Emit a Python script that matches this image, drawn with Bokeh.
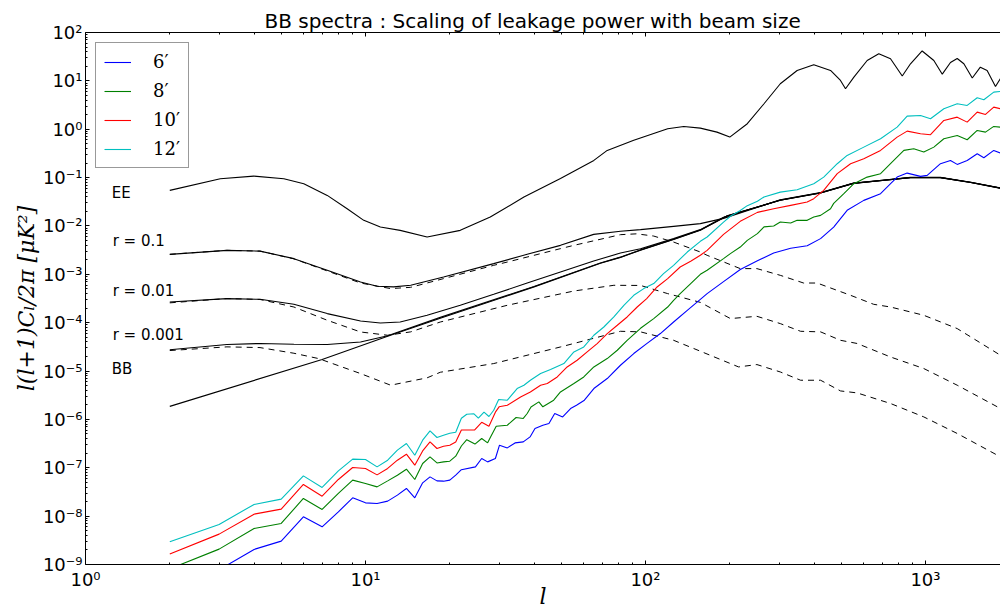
import numpy as np
from bokeh.plotting import figure
from bokeh.models import (FixedTicker, LogAxis, Legend, LegendItem, ColumnDataSource,
                          CustomJSTickFormatter)
from bokeh.embed import file_html
from bokeh.resources import INLINE
from bokeh.core.properties import value

# ---------------- data: multipole l and log10[l(l+1)C_l/2pi] (uK^2) ----
ee_l = [2, 3.03, 3.99, 5.11, 6.02, 7.3, 8.6, 9.86, 11.3, 13.3,
        16.6, 21.8, 27.9, 36.8, 49.7, 65.4, 73, 90.8, 120, 137,
        157, 180, 200, 231, 265, 303, 348, 399, 458, 497,
        518, 555, 619, 681, 750, 826, 884, 973, 1071, 1148,
        1228, 1298, 1371, 1469, 1570, 1660, 1778, 1853]
ee_log = [-1.264, -1.023, -0.969, -1.023, -1.126, -1.368, -1.643, -1.884, -2.023, -2.091,
          -2.229, -2.091, -1.816, -1.403, -1.017, -0.645, -0.438, -0.229, 0.010, 0.058,
          0.023, -0.06, -0.163, 0.114, 0.527, 0.940, 1.215, 1.333, 1.215, 1.008,
          0.837, 1.076, 1.421, 1.560, 1.457, 1.101, 1.353, 1.618, 1.421, 1.138,
          1.380, 1.463, 1.353, 1.060, 1.283, 1.215, 0.884, 1.050]

lens_l = [2, 7, 12, 18.5, 40, 69, 81.4, 96, 126, 157, 196, 303, 422, 553, 700, 884, 1130, 1450, 1853]
lens_log = [-5.73, -4.76, -4.28, -3.91, -3.26, -2.77, -2.65, -2.50, -2.28, -2.09, -1.79, -1.47,
            -1.32, -1.12, -1.06, -1.00, -1.00, -1.10, -1.22]

r01_tot_l = [2, 3.2, 4.2, 5.55, 7.3, 9.6, 11, 12.6, 14.5, 19, 28.7, 37.8, 49.7, 65.3, 81.4, 96,
             126, 157, 190, 303, 422, 553, 700, 884, 1130, 1450, 1853]
r01_tot_log = [-2.587, -2.504, -2.52, -2.676, -2.917, -3.159, -3.248, -3.26, -3.227, -3.056,
               -2.779, -2.587, -2.401, -2.174, -2.11, -2.076, -2.008, -1.952, -1.843, -1.46,
               -1.31, -1.115, -1.055, -0.995, -0.995, -1.095, -1.215]

r001_tot_l = [2, 3.2, 4.2, 5.55, 7.3, 9.6, 11.3, 13.3, 16.6, 21.8, 28.7, 37.8, 49.7, 65.3, 81.4,
              96, 126, 157, 190, 303, 422, 553, 700, 884, 1130, 1450, 1853]
r001_tot_log = [-3.572, -3.502, -3.517, -3.62, -3.812, -3.965, -4.006, -3.986, -3.847, -3.64,
                -3.413, -3.18, -2.952, -2.725, -2.56, -2.47, -2.262, -2.076, -1.82, -1.465,
                -1.315, -1.118, -1.058, -0.998, -0.998, -1.098, -1.218]

r0001_tot_l = [2, 3.2, 4.2, 5.55, 7.3, 9.6, 12, 18.5, 40, 69, 81.4, 96, 126, 157, 196, 303, 422,
               553, 700, 884, 1130, 1450, 1853]
r0001_tot_log = [-4.56, -4.452, -4.43, -4.446, -4.452, -4.40, -4.27, -3.89, -3.25, -2.765, -2.645,
                 -2.495, -2.275, -2.085, -1.79, -1.47, -1.32, -1.12, -1.06, -1.0, -1.0, -1.1, -1.22]

r01_ten_l = [2, 3.2, 4.2, 5.55, 7.3, 9.6, 12.3, 14.5, 19, 28.7,
             32.1, 49.7, 55.5, 81.4, 93, 107, 126, 157, 166, 218, 250,
             303, 367, 410, 540, 653, 750, 986, 1298, 1853]
r01_ten_log = [-2.587, -2.504, -2.52, -2.68, -2.93, -3.18, -3.295, -3.269, -3.089, -2.814,
               -2.746, -2.469, -2.401, -2.18, -2.163, -2.209, -2.333, -2.539, -2.607, -2.882, -2.882,
               -3.021, -3.18, -3.18, -3.434, -3.62, -3.676, -3.847, -4.122, -4.674]

r001_ten_l = [2, 3.2, 4.2, 5.55, 7.3, 9.6, 12, 14.5, 18.5, 32.1,
              55.5, 77.1, 96, 120, 157, 201, 250, 303, 358, 422,
              497, 570, 750, 986, 1298, 1853]
r001_ten_log = [-3.59, -3.50, -3.52, -3.676, -3.95, -4.192, -4.26, -4.19, -3.986, -3.64,
                -3.345, -3.227, -3.23, -3.399, -3.58, -3.915, -3.868, -4.019, -4.178, -4.19,
                -4.364, -4.43, -4.709, -4.948, -5.293, -5.775]

r0001_ten_l = [2, 3.2, 4.2, 5.55, 6.8, 9.6, 12.3, 16.6, 18.5, 28.7,
               49.7, 81.4, 96, 126, 157, 215, 250, 303, 358, 422,
               497, 570, 750, 986, 1298, 1853]
r0001_ten_log = [-4.576, -4.50, -4.515, -4.632, -4.742, -5.052, -5.293, -5.14, -5.025, -4.845,
                 -4.502, -4.178, -4.19, -4.364, -4.59, -4.915, -4.866, -5.019, -5.19, -5.19,
                 -5.411, -5.452, -5.671, -5.948, -6.291, -6.775]

# leakage spectra for the four beam sizes
b6_l = [3, 4, 5, 6, 7, 8, 9, 10, 11, 12, 13, 14, 15, 16, 17, 18, 19, 20, 21, 22,
        24.7, 26, 27.3, 29.1, 30.1, 32.1, 34.2, 36.6, 38.7, 40.3,
        43, 45.2, 47.4, 50.6, 54, 56.7, 60.5, 65.4, 73, 81.4,
        90.8, 101, 113, 126, 141, 157, 166, 190, 218, 251,
        287, 330, 378, 422, 470, 525, 602, 691, 792, 860,
        960, 1014, 1131, 1228, 1298, 1409, 1530, 1616, 1753, 1853]
b6_log = [-9.11, -8.688, -8.517, -8.014, -8.221, -7.911, -7.622, -7.725, -7.738, -7.690,
          -7.566, -7.428, -7.622, -7.312, -7.188, -7.271, -7.277, -7.256, -7.153, -7.04,
          -6.981, -6.808, -6.878, -6.808, -6.533, -6.589, -6.486, -6.465, -6.362, -6.188,
          -6.12, -6.085, -5.878, -5.948, -5.775, -5.707, -5.603, -5.362, -5.155, -4.880,
          -4.638, -4.432, -4.225, -3.986, -3.744, -3.517, -3.40, -3.15, -2.90, -2.72,
          -2.56, -2.46, -2.41, -2.262, -2.023, -1.677, -1.471, -1.333, -0.990, -0.907,
          -0.975, -0.955, -0.713, -0.645, -0.727, -0.645, -0.506, -0.589, -0.438, -0.493]

b8_l = [2, 3, 4, 5, 6, 7, 8, 9, 10, 11, 12, 13, 14, 15, 16, 17, 18, 19, 20, 21, 22,
        23, 24.6, 26, 27.3, 28, 29.3,
        32.1, 34.5, 36.6, 37.8, 39, 41.6, 43, 47, 49.7, 55.5,
        60.2, 65.4, 73, 79.3, 86, 96, 107, 120, 126, 133,
        145, 157, 166, 190, 201, 218, 231, 251, 265, 287,
        303, 330, 348, 378, 399, 422, 458, 470, 511, 555,
        619, 691, 750, 837, 908, 986, 1071, 1163, 1298, 1409,
        1530, 1638, 1753, 1853]
b8_log = [-9.09, -8.682, -8.254, -8.151, -7.634, -7.862, -7.531, -7.256, -7.324, -7.395,
          -7.271, -7.153, -7.029, -7.242, -6.911, -6.775, -6.90, -6.878, -6.864, -6.760, -6.55,
          -6.42, -6.51, -6.395, -6.485, -6.36, -6.14,
          -6.12, -5.96, -5.98, -5.878, -5.742, -5.638, -5.74, -5.603, -5.432, -5.258,
          -5.122, -4.915, -4.742, -4.570, -4.364, -4.116, -3.915, -3.676, -3.537, -3.399,
          -3.192, -3.0, -2.917, -2.676, -2.572, -2.436, -2.298, -2.159, -2.02, -2.0,
          -1.919, -1.94, -1.884, -1.884, -1.816, -1.781, -1.643, -1.533, -1.333, -1.126,
          -0.990, -0.919, -0.713, -0.438, -0.403, -0.473, -0.370, -0.196, -0.128, -0.217,
          -0.025, -0.060, 0.058, 0.043]

b10_l = [2, 3, 4, 5, 6, 7, 8, 9, 10, 11, 12, 13, 14, 15, 16, 17, 18, 19, 20, 21, 22,
         24.5, 26, 27.6, 29.1, 30,
         32.1, 35.8, 38.8, 42.2, 44.6, 48.4, 52.5, 57, 61.9, 67.2,
         73, 79.3, 86, 93.4, 101, 110, 120, 133, 145, 157,
         166, 190, 218, 251, 287, 330, 378, 399, 433, 484,
         540, 602, 691, 792, 860, 960, 1042, 1163, 1298, 1409,
         1530, 1638, 1753, 1853]
b10_log = [-8.785, -8.372, -7.959, -7.855, -7.345, -7.587, -7.242, -6.994, -7.014, -7.147,
           -7.014, -6.843, -6.719, -6.946, -6.651, -6.465, -6.601, -6.554, -6.533, -6.465, -6.22,
           -6.22, -6.06, -6.14, -5.85, -5.74,
           -5.707, -5.535, -5.432, -5.293, -5.258, -5.122, -4.915, -4.777, -4.605, -4.432,
           -4.225, -4.054, -3.882, -3.676, -3.502, -3.262, -3.089, -2.849, -2.731, -2.607,
           -2.504, -2.174, -1.905, -1.719, -1.643, -1.574, -1.506, -1.436, -1.264, -0.919,
           -0.713, -0.610, -0.438, -0.163, -0.039, -0.093, -0.114, 0.182, 0.250, 0.147,
           0.353, 0.306, 0.457, 0.424]

b12_l = [2, 3, 4, 5, 6, 7, 8, 9, 10, 11, 12, 13, 14, 15, 16, 17, 18, 19, 20, 21, 22,
         23, 24.4, 25.3, 26.5, 27.6, 28.7, 29.9,
         32.1, 34.8, 36.8, 38.8, 42.2, 45.8, 51.1, 55.5, 60.2, 65.4,
         71, 77.1, 83.7, 90.8, 98.6, 107, 116, 126, 141, 157,
         166, 190, 201, 218, 231, 251, 265, 303, 348, 399,
         433, 484, 525, 602, 691, 792, 860, 960, 1042, 1163,
         1298, 1409, 1530, 1616, 1753, 1853]
b12_log = [-8.531, -8.171, -7.758, -7.649, -7.167, -7.407, -7.064, -6.822, -6.829, -6.981,
           -6.843, -6.636, -6.498, -6.740, -6.430, -6.238, -6.374, -6.327, -6.285, -6.264, -5.975,
           -5.893, -5.884, -5.973, -5.849, -5.94, -5.81, -5.589,
           -5.603, -5.362, -5.293, -5.19, -5.052, -4.969, -4.845, -4.605, -4.502, -4.260,
           -4.089, -3.882, -3.640, -3.434, -3.295, -3.192, -2.986, -2.814, -2.539, -2.318,
           -2.229, -1.92, -1.80, -1.68, -1.58, -1.49, -1.40, -1.30, -1.25, -1.126,
           -0.99, -0.713, -0.541, -0.370, -0.196, 0.043, 0.271, 0.285, 0.217, 0.424,
           0.527, 0.492, 0.651, 0.610, 0.767, 0.781]

beam_labels = ["6\u2032", "8\u2032", "10\u2032", "12\u2032"]
beam_colors = ["#0000ff", "#008000", "#ff0000", "#00bfbf"]

note_text = ["EE", "r = 0.1", "r = 0.01", "r = 0.001", "BB"]
note_l = [1.24, 1.25, 1.25, 1.25, 1.24]
note_val = [0.049, 0.0048, 0.00045, 0.000055, 0.0000109]

title_text = "BB spectra : Scaling of leakage power with beam size"
x_label_text = "l"
y_label_text = "l(l+1)C\u2097/2\u03c0 [\u03bcK\u00b2]"

x_major = [1, 10, 100, 1000]
x_minor = [m * 10 ** e for e in range(0, 4) for m in range(2, 10)]
y_major = [10.0 ** e for e in range(-9, 3)]
y_minor = [m * 10.0 ** e for e in range(-9, 2) for m in range(2, 10)]


def lin(a):
    return [10.0 ** v for v in a]


p = figure(width=1000, height=614, x_axis_type="log", y_axis_type="log",
           x_range=(1, 1853), y_range=(1e-9, 1e2),
           output_backend="svg", toolbar_location=None,
           min_border_left=85, min_border_right=0, min_border_top=32, min_border_bottom=50)
p.grid.visible = False
p.outline_line_color = None
p.background_fill_color = "white"
p.border_fill_color = "white"

# theory curves
black_kw = dict(line_color="black", line_width=1.1)
p.line(ee_l, lin(ee_log), **black_kw)
p.line(lens_l, lin(lens_log), **black_kw)
p.line(r01_tot_l, lin(r01_tot_log), **black_kw)
p.line(r001_tot_l, lin(r001_tot_log), **black_kw)
p.line(r0001_tot_l, lin(r0001_tot_log), **black_kw)
for tl, tv in [(r01_ten_l, r01_ten_log), (r001_ten_l, r001_ten_log), (r0001_ten_l, r0001_ten_log)]:
    p.line(tl, lin(tv), line_color="black", line_width=1.0, line_dash="6 5")

# leakage curves
items = []
for lab, col, ll, lv in zip(beam_labels, beam_colors,
                            [b6_l, b8_l, b10_l, b12_l], [b6_log, b8_log, b10_log, b12_log]):
    r = p.line(ll, lin(lv), line_color=col, line_width=1.1)
    items.append(LegendItem(label=lab, renderers=[r]))

src = ColumnDataSource(dict(x=note_l, y=note_val, t=note_text))
p.text(x="x", y="y", text="t", source=src, text_font=value("DejaVu Sans"),
       text_font_size="15px", text_baseline="middle", text_align="left", text_color="black")

legend = Legend(items=items, location="top_left", margin=10, padding=8, spacing=8,
                glyph_width=27, glyph_height=16, label_height=16, label_standoff=22,
                label_text_font="DejaVu Serif", label_text_font_size="18px",
                label_text_color="black",
                border_line_color="#333333", border_line_width=1.2,
                background_fill_color="white", background_fill_alpha=1.0)
p.add_layout(legend)

# axes
sup_fmt = CustomJSTickFormatter(code="""
const sup = {"-": "\u207b", "0": "\u2070", "1": "\u00b9", "2": "\u00b2", "3": "\u00b3",
             "4": "\u2074", "5": "\u2075", "6": "\u2076", "7": "\u2077", "8": "\u2078", "9": "\u2079"};
const e = Math.round(Math.log10(tick));
return "10" + String(e).split("").map(c => sup[c]).join("");
""")

for ax in (p.xaxis[0], p.yaxis[0]):
    ax.major_tick_in = 4
    ax.major_tick_out = 0
    ax.minor_tick_in = 2
    ax.minor_tick_out = 0
    ax.axis_line_color = "black"
    ax.major_tick_line_color = "black"
    ax.minor_tick_line_color = "black"
    ax.major_label_text_font = "DejaVu Sans"
    ax.major_label_text_font_size = "18px"
    ax.major_label_text_color = "black"
    ax.axis_label_text_font = "DejaVu Serif"
    ax.axis_label_text_font_style = "italic"
    ax.axis_label_text_color = "black"
    ax.formatter = sup_fmt

p.xaxis.ticker = FixedTicker(ticks=x_major, minor_ticks=x_minor)
p.yaxis.ticker = FixedTicker(ticks=y_major, minor_ticks=y_minor)
p.xaxis.major_label_standoff = 4
p.yaxis.major_label_standoff = 3
p.yaxis.axis_label = y_label_text
p.yaxis.axis_label_text_font_size = "22px"
p.yaxis.axis_label_standoff = 1
p.xaxis.axis_label = x_label_text
p.xaxis.axis_label_text_font_size = "22px"
p.xaxis.axis_label_standoff = -9

top = LogAxis(ticker=FixedTicker(ticks=x_major, minor_ticks=x_minor),
              major_label_overrides={1: "", 10: "", 100: "", 1000: ""},
              major_label_text_font_size="1px", major_label_standoff=0,
              major_tick_in=4, major_tick_out=0, minor_tick_in=2, minor_tick_out=0,
              axis_line_color="black", major_tick_line_color="black",
              minor_tick_line_color="black")
p.add_layout(top, "above")

p.title.text = title_text
p.title.text_font = "DejaVu Sans"
p.title.text_font_size = "20px"
p.title.text_font_style = "normal"
p.title.text_color = "black"
p.title.align = "left"
p.title.offset = 179
p.title.standoff = 0

open("out.html", "w").write(file_html(p, INLINE, "BB spectra"))
